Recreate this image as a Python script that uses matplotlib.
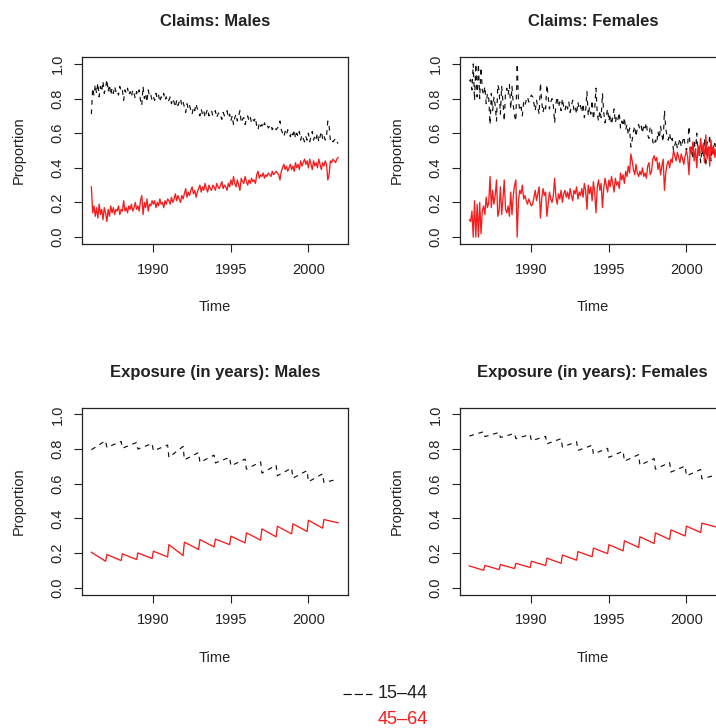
import matplotlib
matplotlib.use("Agg")
import matplotlib.pyplot as plt
from matplotlib.lines import Line2D

plt.rcParams["font.family"] = ["Liberation Sans", "DejaVu Sans"]

# monthly claims proportions, Jan 1986 - Dec 2001 (one row per year)
claims_m_young = [
    0.71, 0.86, 0.82, 0.88, 0.83, 0.89, 0.81, 0.87, 0.84, 0.90, 0.83, 0.86,
    0.91, 0.84, 0.88, 0.82, 0.86, 0.83, 0.87, 0.84, 0.85, 0.82, 0.87, 0.84,
    0.85, 0.79, 0.85, 0.83, 0.86, 0.82, 0.84, 0.81, 0.85, 0.83, 0.80, 0.84,
    0.82, 0.85, 0.79, 0.76, 0.87, 0.80, 0.83, 0.78, 0.85, 0.81, 0.82, 0.79,
    0.81, 0.79, 0.83, 0.80, 0.82, 0.78, 0.81, 0.80, 0.83, 0.79, 0.81, 0.78,
    0.79, 0.81, 0.77, 0.80, 0.78, 0.75, 0.79, 0.76, 0.78, 0.80, 0.76, 0.78,
    0.75, 0.72, 0.77, 0.74, 0.76, 0.73, 0.71, 0.75, 0.73, 0.77, 0.74, 0.72,
    0.70, 0.74, 0.71, 0.73, 0.69, 0.72, 0.74, 0.70, 0.72, 0.73, 0.70, 0.71,
    0.73, 0.69, 0.71, 0.72, 0.70, 0.68, 0.72, 0.70, 0.71, 0.73, 0.69, 0.71,
    0.67, 0.70, 0.65, 0.69, 0.71, 0.67, 0.70, 0.73, 0.66, 0.68, 0.69, 0.65,
    0.68, 0.70, 0.67, 0.69, 0.66, 0.68, 0.67, 0.69, 0.64, 0.62, 0.66, 0.64,
    0.65, 0.63, 0.66, 0.64, 0.65, 0.63, 0.64, 0.65, 0.62, 0.64, 0.63, 0.62,
    0.63, 0.64, 0.67, 0.62, 0.60, 0.58, 0.61, 0.59, 0.62, 0.60, 0.58, 0.61,
    0.59, 0.62, 0.57, 0.60, 0.58, 0.61, 0.56, 0.59, 0.57, 0.55, 0.58, 0.56,
    0.60, 0.55, 0.58, 0.61, 0.56, 0.59, 0.57, 0.60, 0.55, 0.58, 0.61, 0.57,
    0.59, 0.56, 0.58, 0.67, 0.64, 0.56, 0.57, 0.55, 0.56, 0.57, 0.55, 0.54,
]
claims_m_old = [
    0.29, 0.14, 0.18, 0.12, 0.17, 0.11, 0.19, 0.13, 0.16, 0.10, 0.17, 0.14,
    0.09, 0.16, 0.12, 0.18, 0.14, 0.17, 0.13, 0.16, 0.15, 0.18, 0.13, 0.16,
    0.15, 0.21, 0.15, 0.17, 0.14, 0.18, 0.16, 0.19, 0.15, 0.17, 0.20, 0.16,
    0.18, 0.15, 0.21, 0.24, 0.13, 0.20, 0.17, 0.22, 0.15, 0.19, 0.18, 0.21,
    0.19, 0.21, 0.17, 0.20, 0.18, 0.22, 0.19, 0.20, 0.17, 0.21, 0.19, 0.22,
    0.21, 0.19, 0.23, 0.20, 0.22, 0.25, 0.21, 0.24, 0.22, 0.20, 0.24, 0.22,
    0.25, 0.28, 0.23, 0.26, 0.24, 0.27, 0.29, 0.25, 0.27, 0.23, 0.26, 0.28,
    0.30, 0.26, 0.29, 0.27, 0.31, 0.28, 0.26, 0.30, 0.28, 0.27, 0.30, 0.29,
    0.27, 0.31, 0.29, 0.28, 0.30, 0.32, 0.28, 0.30, 0.29, 0.27, 0.31, 0.29,
    0.33, 0.30, 0.35, 0.31, 0.29, 0.33, 0.30, 0.27, 0.34, 0.32, 0.31, 0.35,
    0.32, 0.30, 0.33, 0.31, 0.34, 0.32, 0.33, 0.31, 0.36, 0.38, 0.34, 0.36,
    0.35, 0.37, 0.34, 0.36, 0.35, 0.37, 0.36, 0.35, 0.38, 0.36, 0.37, 0.38,
    0.37, 0.36, 0.33, 0.38, 0.40, 0.42, 0.39, 0.41, 0.38, 0.40, 0.42, 0.39,
    0.41, 0.38, 0.43, 0.40, 0.42, 0.39, 0.44, 0.41, 0.43, 0.45, 0.42, 0.44,
    0.40, 0.45, 0.42, 0.39, 0.44, 0.41, 0.43, 0.40, 0.45, 0.42, 0.39, 0.43,
    0.41, 0.44, 0.42, 0.33, 0.36, 0.44, 0.43, 0.45, 0.44, 0.43, 0.45, 0.46,
]
claims_f_young = [
    0.90, 0.91, 0.85, 1.00, 0.79, 1.00, 0.81, 1.00, 0.80, 0.98, 0.85, 0.82,
    0.87, 0.77, 0.83, 0.80, 0.65, 0.83, 0.73, 0.81, 0.76, 0.67, 0.88, 0.85,
    0.71, 0.87, 0.78, 0.67, 0.84, 0.86, 0.82, 0.88, 0.74, 0.87, 0.76, 0.70,
    0.67, 1.00, 0.79, 0.73, 0.75, 0.70, 0.78, 0.76, 0.79, 0.81, 0.78, 0.80,
    0.82, 0.81, 0.77, 0.73, 0.79, 0.75, 0.71, 0.89, 0.78, 0.72, 0.76, 0.74,
    0.88, 0.81, 0.74, 0.78, 0.80, 0.76, 0.66, 0.77, 0.81, 0.75, 0.78, 0.73,
    0.80, 0.75, 0.73, 0.77, 0.74, 0.78, 0.72, 0.76, 0.79, 0.73, 0.75, 0.71,
    0.78, 0.74, 0.76, 0.72, 0.77, 0.69, 0.73, 0.84, 0.70, 0.75, 0.71, 0.79,
    0.68, 0.74, 0.86, 0.71, 0.67, 0.73, 0.69, 0.83, 0.72, 0.66, 0.70, 0.74,
    0.67, 0.71, 0.65, 0.69, 0.74, 0.66, 0.70, 0.68, 0.72, 0.63, 0.67, 0.64,
    0.69, 0.62, 0.65, 0.59, 0.63, 0.52, 0.56, 0.61, 0.64, 0.58, 0.63, 0.65,
    0.62, 0.64, 0.60, 0.65, 0.63, 0.66, 0.59, 0.57, 0.64, 0.62, 0.55, 0.53,
    0.56, 0.54, 0.61, 0.57, 0.64, 0.59, 0.55, 0.73, 0.63, 0.58, 0.56, 0.60,
    0.55, 0.57, 0.50, 0.53, 0.56, 0.51, 0.54, 0.57, 0.52, 0.55, 0.58, 0.53,
    0.50, 0.54, 0.64, 0.48, 0.52, 0.45, 0.56, 0.49, 0.60, 0.47, 0.53, 0.43,
    0.51, 0.46, 0.57, 0.41, 0.55, 0.48, 0.59, 0.44, 0.52, 0.47, 0.54, 0.49,
]
claims_f_old = [
    0.10, 0.09, 0.15, 0.00, 0.21, 0.00, 0.19, 0.00, 0.20, 0.02, 0.15, 0.18,
    0.13, 0.23, 0.17, 0.20, 0.35, 0.17, 0.27, 0.19, 0.24, 0.33, 0.12, 0.15,
    0.29, 0.13, 0.22, 0.33, 0.16, 0.14, 0.18, 0.12, 0.26, 0.13, 0.24, 0.30,
    0.33, 0.00, 0.21, 0.27, 0.25, 0.30, 0.22, 0.24, 0.21, 0.19, 0.22, 0.20,
    0.18, 0.19, 0.23, 0.27, 0.21, 0.25, 0.29, 0.11, 0.22, 0.28, 0.24, 0.26,
    0.12, 0.19, 0.26, 0.22, 0.20, 0.24, 0.34, 0.23, 0.19, 0.25, 0.22, 0.27,
    0.20, 0.25, 0.27, 0.23, 0.26, 0.22, 0.28, 0.24, 0.21, 0.27, 0.25, 0.29,
    0.22, 0.26, 0.24, 0.28, 0.23, 0.31, 0.27, 0.16, 0.30, 0.25, 0.29, 0.21,
    0.32, 0.26, 0.14, 0.29, 0.33, 0.27, 0.31, 0.17, 0.28, 0.34, 0.30, 0.26,
    0.33, 0.29, 0.35, 0.31, 0.26, 0.34, 0.30, 0.32, 0.28, 0.37, 0.33, 0.36,
    0.31, 0.38, 0.35, 0.41, 0.37, 0.48, 0.44, 0.39, 0.36, 0.42, 0.37, 0.35,
    0.38, 0.36, 0.40, 0.35, 0.37, 0.34, 0.41, 0.43, 0.36, 0.38, 0.45, 0.47,
    0.44, 0.46, 0.39, 0.43, 0.36, 0.41, 0.45, 0.27, 0.37, 0.42, 0.44, 0.40,
    0.45, 0.43, 0.50, 0.47, 0.44, 0.49, 0.46, 0.43, 0.48, 0.45, 0.42, 0.47,
    0.50, 0.46, 0.36, 0.52, 0.48, 0.55, 0.44, 0.51, 0.40, 0.53, 0.47, 0.57,
    0.49, 0.54, 0.43, 0.59, 0.45, 0.52, 0.41, 0.56, 0.48, 0.53, 0.46, 0.51,
]

# exposure proportions: January and December value of each year 1986-2001
# (within a year the exposure share moves in a straight line)
years = [1986, 1987, 1988, 1989, 1990, 1991, 1992, 1993,
         1994, 1995, 1996, 1997, 1998, 1999, 2000, 2001]
exp_m_young_jan = [0.796, 0.809, 0.805, 0.800, 0.790, 0.752, 0.738, 0.723,
                   0.720, 0.703, 0.684, 0.661, 0.646, 0.632, 0.611, 0.607]
exp_m_young_dec = [0.848, 0.844, 0.838, 0.832, 0.823, 0.815, 0.780, 0.765,
                   0.752, 0.742, 0.726, 0.707, 0.690, 0.676, 0.657, 0.626]
exp_m_old_jan = [0.204, 0.191, 0.195, 0.200, 0.210, 0.248, 0.262, 0.277,
                 0.280, 0.297, 0.316, 0.339, 0.354, 0.368, 0.389, 0.393]
exp_m_old_dec = [0.152, 0.156, 0.162, 0.168, 0.177, 0.185, 0.220, 0.235,
                 0.248, 0.258, 0.274, 0.293, 0.310, 0.324, 0.343, 0.374]
exp_f_young_jan = [0.875, 0.872, 0.867, 0.860, 0.848, 0.830, 0.812, 0.792,
                   0.772, 0.752, 0.730, 0.707, 0.684, 0.667, 0.645, 0.628]
exp_f_young_dec = [0.900, 0.896, 0.890, 0.884, 0.873, 0.860, 0.842, 0.822,
                   0.804, 0.788, 0.768, 0.745, 0.722, 0.702, 0.682, 0.650]
exp_f_old_jan = [0.125, 0.128, 0.133, 0.140, 0.152, 0.170, 0.188, 0.208,
                 0.228, 0.248, 0.270, 0.293, 0.316, 0.333, 0.355, 0.372]
exp_f_old_dec = [0.100, 0.104, 0.110, 0.116, 0.127, 0.140, 0.158, 0.178,
                 0.196, 0.212, 0.232, 0.255, 0.278, 0.298, 0.318, 0.350]

group_labels = ["15\u201344", "45\u201364"]
titles = ["Claims: Males", "Claims: Females",
          "Exposure (in years): Males", "Exposure (in years): Females"]

W, H = 716, 728
fig = plt.figure(figsize=(W / 100, H / 100), dpi=100)

months = [1986 + i / 12 for i in range(len(claims_m_old))]


def jan_dec(jan, dec):
    xs, ys = [], []
    for y, a, b in zip(years, jan, dec):
        xs += [y, y + 11 / 12]
        ys += [a, b]
    return xs, ys


panels = [
    (months, claims_m_young, months, claims_m_old),
    (months, claims_f_young, months, claims_f_old),
    (*jan_dec(exp_m_young_jan, exp_m_young_dec), *jan_dec(exp_m_old_jan, exp_m_old_dec)),
    (*jan_dec(exp_f_young_jan, exp_f_young_dec), *jan_dec(exp_f_old_jan, exp_f_old_dec)),
]

# axes boxes in pixels: left, top
boxes = [(81.5, 57), (459.5, 57), (81.5, 407.5), (459.5, 407.5)]
bw, bh = 266.5, 187

dash = (0, (4, 4))
red = "#f51d1d"
ink = "#222222"
for i, (bx, by) in enumerate(boxes):
    ax = fig.add_axes([bx / W, 1 - (by + bh) / H, bw / W, bh / H])
    xa, ya, xb, yb = panels[i]
    ax.plot(xa, ya, color="#111111", lw=0.85, linestyle=dash)
    ax.plot(xb, yb, color=red, lw=0.95)
    span = 2001 + 11 / 12 - 1986
    ax.set_xlim(1986 - 0.04 * span, 2001 + 11 / 12 + 0.04 * span)
    ax.set_ylim(-0.04, 1.04)
    ax.set_xticks([1990, 1995, 2000])
    ax.set_yticks([0, 0.2, 0.4, 0.6, 0.8, 1.0])
    ax.set_yticklabels(["0.0", "0.2", "0.4", "0.6", "0.8", "1.0"],
                       rotation=90, va="center")
    ax.tick_params(direction="out", length=6, width=0.8, labelsize=10.5,
                   colors=ink)
    ax.tick_params(axis="x", pad=7.5)
    ax.tick_params(axis="y", pad=6)
    for s in ax.spines.values():
        s.set_linewidth(0.9)
        s.set_color(ink)

    cx = bx + bw / 2
    fig.text(cx / W, 1 - (by - 35) / H, titles[i], ha="center", va="center",
             fontsize=12, fontweight="bold", color=ink)
    fig.text(cx / W, 1 - (by + bh + 63) / H, "Time", ha="center",
             va="center", fontsize=10.5, color=ink)
    fig.text((bx - 63) / W, 1 - (by + bh / 2) / H, "Proportion",
             ha="center", va="center", rotation=90, fontsize=10.5,
             color=ink)

# legend at the bottom
fig.add_artist(Line2D([343 / W, 372 / W], [1 - 694 / H, 1 - 694 / H],
                      color="#111111", lw=0.85, linestyle=(0, (7, 2.5))))
fig.text(378 / W, 1 - 693 / H, group_labels[0], ha="left", va="center",
         fontsize=13, color=ink)
fig.text(378 / W, 1 - 720 / H, group_labels[1], ha="left", va="center",
         fontsize=13, color=red)

fig.savefig("out.png", dpi=100)
